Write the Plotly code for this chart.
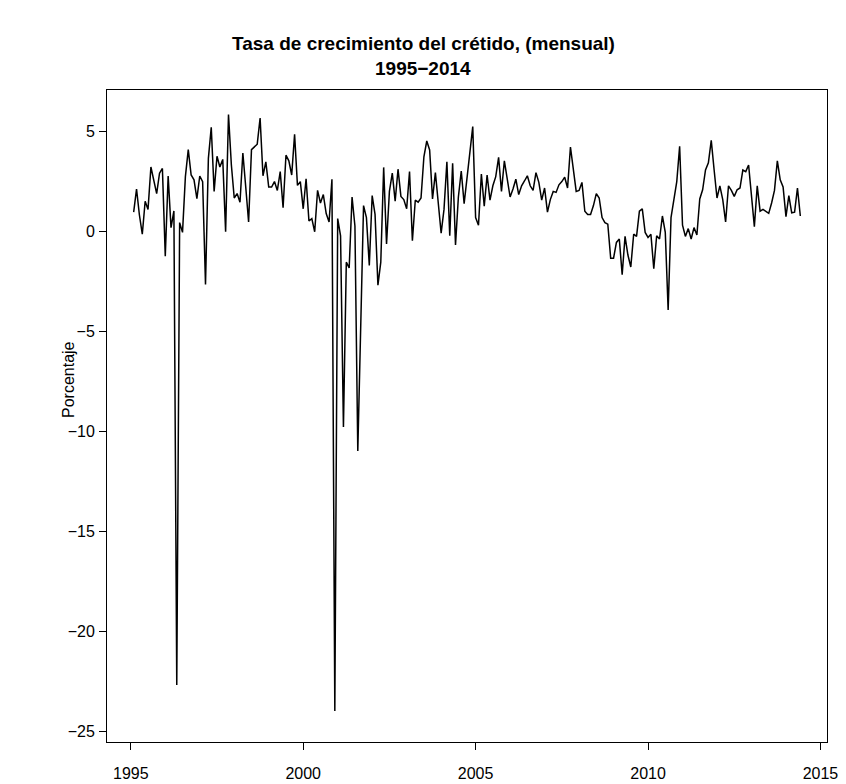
import plotly.graph_objects as go

# Tasa de crecimiento mensual del crédito (%), feb-1995 a jun-2014
inicio_anio = 1995
inicio_mes = 2
tasa = [
    0.94, 2.1, 0.8, -0.16, 1.49, 1.08, 3.2, 2.5, 1.87, 2.89, 3.13, -1.26,
    2.75, 0.17, 1.0, -22.7, 0.42, -0.07, 2.72, 4.07, 2.8, 2.56, 1.62, 2.75,
    2.47, -2.68, 3.63, 5.19, 1.98, 3.74, 3.2, 3.58, -0.04, 5.82, 3.3, 1.65,
    1.87, 1.44, 3.9, 2.2, 0.45, 4.07, 4.2, 4.34, 5.65, 2.76, 3.46, 2.2,
    2.2, 2.47, 2.03, 2.97, 1.16, 3.79, 3.51, 2.8, 4.83, 2.28, 2.47, 1.11,
    2.61, 0.5, 0.62, -0.04, 2.03, 1.4, 1.82, 0.87, 0.45, 2.59, -24.0, 0.62,
    -0.24, -9.8, -1.56, -1.85, 1.7, 0.25, -11.0, -4.0, 1.27, 0.67, -1.72, 1.77,
    0.83, -2.71, -1.56, 3.18, -0.65, 1.98, 2.89, 1.49, 3.09, 1.73, 1.57, 1.11,
    2.97, -0.49, 1.54, 1.44, 1.65, 3.71, 4.5, 4.05, 1.6, 2.92, 1.57, -0.11,
    1.08, 3.46, -0.24, 3.38, -0.7, 1.7, 3.0, 1.37, 2.64, 3.88, 5.22, 0.67,
    0.29, 2.85, 1.24, 2.8, 1.54, 2.26, 2.72, 3.68, 1.98, 3.51, 2.56, 1.7,
    2.1, 2.59, 1.82, 2.26, 2.5, 2.76, 2.26, 2.03, 2.92, 2.43, 1.54, 2.15,
    0.94, 1.57, 1.98, 1.93, 2.31, 2.47, 2.69, 2.15, 4.2, 3.13, 1.98, 2.03,
    2.43, 0.99, 0.83, 0.83, 1.27, 1.87, 1.65, 0.67, 0.42, 0.34, -1.36, -1.36,
    -0.57, -0.4, -2.18, -0.27, -1.2, -1.8, -0.16, -0.27, 0.99, 1.11, -0.07, -0.32,
    -0.16, -1.89, -0.24, -0.4, 0.75, -0.07, -3.95, 0.67, 1.57, 2.47, 4.24, 0.29,
    -0.27, 0.12, -0.4, 0.17, -0.2, 1.6, 2.06, 3.05, 3.41, 4.53, 3.05, 1.65,
    2.26, 1.57, 0.45, 2.26, 2.03, 1.73, 2.06, 2.15, 3.05, 2.97, 3.3, 1.57,
    0.22, 2.26, 0.99, 1.08, 0.99, 0.88, 1.4, 2.03, 3.51, 2.56, 2.2, 0.72,
    1.77, 0.91, 0.94, 2.15, 0.75,
]
x_ticks = [1995, 2000, 2005, 2010, 2015]
y_ticks = [5, 0, -5, -10, -15, -20, -25]
y_limites = [-25.55, 7.05]
titulo = ["Tasa de crecimiento del crétido, (mensual)", "1995\u22122014"]
etiqueta_y = "Porcentaje"

# tiempo en años decimales, como un objeto ts mensual
tiempo = [inicio_anio + (inicio_mes - 1 + k) / 12 for k in range(len(tasa))]


def rango_r(valores):
    lo, hi = min(valores), max(valores)
    d = (hi - lo) * 0.04
    return [lo - d, hi + d]


def menos(v):
    return str(v).replace("-", "\u2212")


fuente = "Liberation Sans, Arial, Helvetica, sans-serif"

fig = go.Figure(
    go.Scatter(x=tiempo, y=tasa, mode="lines",
               line=dict(color="black", width=1.5), hoverinfo="skip")
)

eje = dict(
    showgrid=False, zeroline=False, showline=True, mirror=True,
    linecolor="black", linewidth=1, ticks="outside", ticklen=7,
    tickcolor="black", tickwidth=1, automargin=False,
    tickfont=dict(family=fuente, size=16, color="black"),
)

fig.update_layout(
    width=846, height=784,
    margin=dict(l=107, r=19, t=90, b=42, autoexpand=False),
    paper_bgcolor="white", plot_bgcolor="white",
    showlegend=False,
    xaxis=dict(eje, range=rango_r(tiempo), tickvals=x_ticks,
               ticktext=[str(t) for t in x_ticks], ticklabelstandoff=10),
    yaxis=dict(eje, range=y_limites, tickvals=y_ticks,
               ticktext=[menos(t) for t in y_ticks], ticklabelstandoff=1),
    annotations=[
        dict(text=titulo[0], xref="paper", yref="paper", x=0.5, y=1,
             xshift=-44, yshift=47, yanchor="middle", showarrow=False,
             font=dict(family=fuente, size=19, color="black", weight="bold")),
        dict(text=titulo[1], xref="paper", yref="paper", x=0.5, y=1,
             xshift=-44, yshift=22, yanchor="middle", showarrow=False,
             font=dict(family=fuente, size=19, color="black", weight="bold")),
        dict(text=etiqueta_y, xref="paper", yref="paper", x=0, y=0.5,
             xshift=-39, yshift=36, xanchor="center", yanchor="middle",
             textangle=-90, showarrow=False,
             font=dict(family=fuente, size=16, color="black")),
    ],
)

fig.write_html("out.html")
